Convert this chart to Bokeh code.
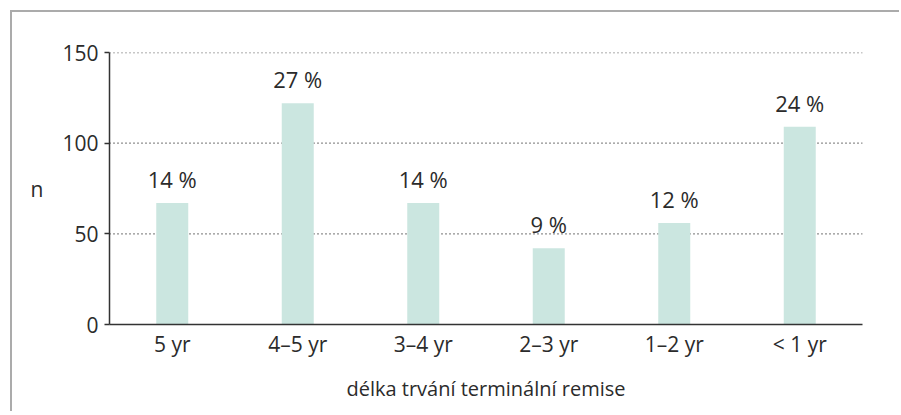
from bokeh.plotting import figure
from bokeh.models import ColumnDataSource, Range1d, FactorRange, LabelSet, Span
from bokeh.core.properties import value
from bokeh.embed import file_html
from bokeh.resources import INLINE

categories = ["5 yr", "4–5 yr", "3–4 yr", "2–3 yr", "1–2 yr", "< 1 yr"]
counts = [67, 122, 67, 42, 56, 109]
percents = ["14 %", "27 %", "14 %", "9 %", "12 %", "24 %"]
y_ticks = [0, 50, 100, 150]
grid_lines = [50, 100, 150]

FONT = "Open Sans"
TXT = "#2b2b2b"

src = ColumnDataSource(dict(cat=categories, n=counts, pct=percents))

p = figure(
    width=889, height=401,
    x_range=FactorRange(*categories, range_padding=0),
    y_range=Range1d(0, 150),
    output_backend="svg", toolbar_location=None,
    min_border_left=97, min_border_right=39, min_border_top=40, min_border_bottom=89,
)
p.margin = (10, 0, 0, 10)
p.styles = {"border-left": "2px solid #ababab", "border-top": "2px solid #ababab"}
p.outline_line_color = None

# dotted horizontal grid lines (including the top one at the frame edge)
p.xgrid.grid_line_color = None
p.ygrid.grid_line_color = None
for g in grid_lines:
    p.add_layout(Span(location=g, dimension="width", line_color="#222222",
                      line_dash="1 3", line_width=1.3, level="underlay"))

p.vbar(x="cat", top="n", width=0.255, source=src, color="#cbe6e0", line_color=None)

labels = LabelSet(x="cat", y="n", text="pct", source=src, text_align="center",
                  text_baseline="alphabetic", y_offset=15, text_font=value(FONT),
                  text_font_size=value("22px"), text_color=value(TXT))
p.add_layout(labels)

# y axis
p.yaxis.ticker = y_ticks
p.yaxis.axis_label = "n"
p.yaxis.axis_label_orientation = "horizontal"
p.yaxis.axis_label_standoff = 16
p.yaxis.axis_label_text_font = FONT
p.yaxis.axis_label_text_font_style = "normal"
p.yaxis.axis_label_text_font_size = "21px"
p.yaxis.axis_label_text_color = TXT
p.yaxis.major_label_text_font = FONT
p.yaxis.major_label_text_font_size = "21px"
p.yaxis.major_label_text_color = TXT
p.yaxis.major_label_standoff = 6
p.yaxis.major_tick_out = 5
p.yaxis.major_tick_in = 0
p.yaxis.minor_tick_line_color = None
p.yaxis.axis_line_color = "#333333"
p.yaxis.axis_line_width = 1.5
p.yaxis.major_tick_line_color = "#333333"
p.yaxis.major_tick_line_width = 1.5

# x axis
p.xaxis.axis_label = "délka trvání terminální remise"
p.xaxis.axis_label_standoff = 14
p.xaxis.axis_label_text_font = FONT
p.xaxis.axis_label_text_font_style = "normal"
p.xaxis.axis_label_text_font_size = "20px"
p.xaxis.axis_label_text_color = TXT
p.xaxis.major_label_text_font = FONT
p.xaxis.major_label_text_font_size = "21px"
p.xaxis.major_label_text_color = TXT
p.xaxis.major_label_standoff = 5
p.xaxis.major_tick_out = 0
p.xaxis.major_tick_in = 0
p.xaxis.major_tick_line_color = None
p.xaxis.minor_tick_line_color = None
p.xaxis.axis_line_color = "#333333"
p.xaxis.axis_line_width = 1.5

open("out.html", "w").write(file_html(p, INLINE))
